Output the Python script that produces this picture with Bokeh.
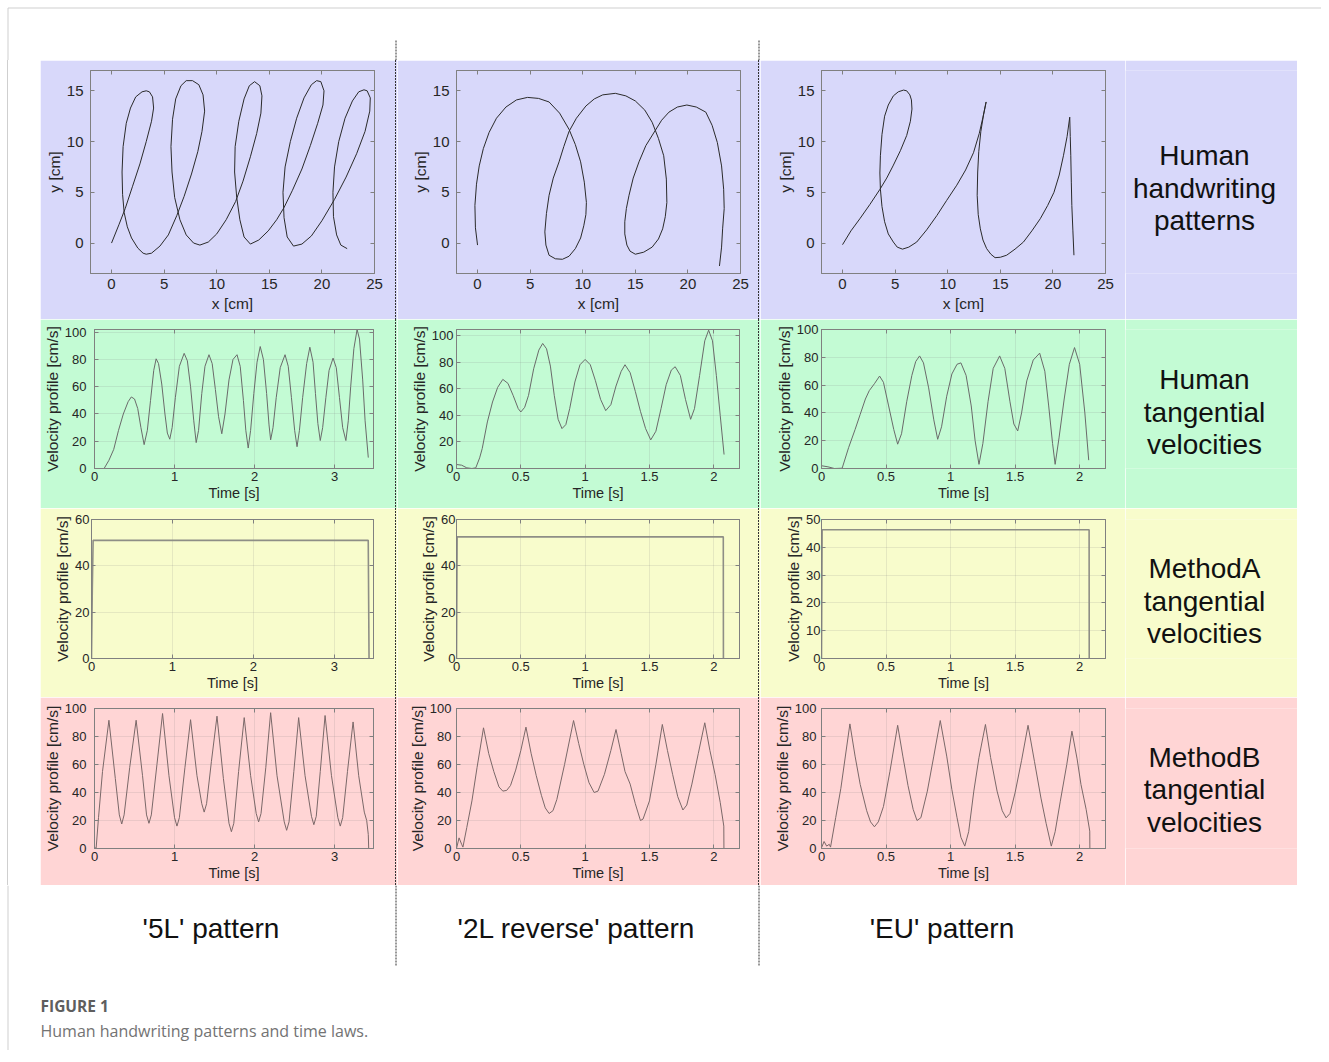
from bokeh.plotting import figure
from bokeh.layouts import column, row
from bokeh.models import Range1d, LinearAxis, FixedTicker, Spacer
from bokeh.embed import file_html
from bokeh.resources import INLINE
from bokeh.core.properties import value

# ------------------------------------------------------------------ data
# Row 1: handwriting trajectories (x [cm], y [cm])
X_5L = [0, 0.7, 1.3, 2.0, 2.7, 3.3, 3.8, 4.0, 3.9, 3.6, 3.3, 2.9, 2.3, 1.8, 1.4, 1.1, 1.0, 1.05, 1.2, 1.5, 1.9, 2.5, 3.0, 3.3,
        3.8, 4.6, 5.4, 6.2, 6.9, 7.6, 8.2, 8.6, 8.85, 8.7, 8.3, 7.7, 7.1, 6.6, 6.1, 5.8, 5.65, 5.75, 6.0, 6.5, 7.1, 7.8, 8.4,
        9.2, 10.0, 10.9, 11.8, 12.5, 13.2, 13.8, 14.2, 14.3, 14.1, 13.6, 13.1, 12.6, 12.1, 11.75, 11.7, 11.9, 12.2, 12.6, 13.2,
        14.0, 14.9, 15.7, 16.4, 17.2, 18.1, 18.9, 19.6, 20.1, 20.2, 19.9, 19.5, 19.0, 18.3, 17.6, 17.0, 16.5, 16.3, 16.4, 16.7, 17.3,
        18.1, 19.0, 20.0, 21.2, 22.3, 23.3, 24.1, 24.55, 24.6, 24.3, 24.0, 23.5, 22.9, 22.2, 21.6, 21.2, 21.05, 21.1, 21.4, 21.8, 22.4]
Y_5L = [0, 1.8, 3.4, 5.6, 7.8, 10.0, 12.0, 13.3, 14.4, 14.9, 15.0, 14.9, 14.4, 13.3, 11.8, 9.5, 7.0, 4.8, 3.0, 1.6, 0.5, -0.5, -1.0, -1.1,
        -1.0, -0.3, 0.8, 2.7, 4.6, 6.8, 9.0, 11.0, 13.0, 14.6, 15.6, 16.0, 16.0, 15.5, 14.2, 12.2, 9.5, 7.0, 4.5, 2.3, 0.8, 0.0, -0.2,
        0.1, 0.9, 2.3, 4.1, 6.1, 8.5, 10.8, 12.8, 14.5, 15.5, 15.9, 15.5, 14.2, 12.0, 9.5, 7.0, 4.5, 2.3, 0.6, -0.1,
        0.3, 1.2, 2.3, 3.5, 5.2, 7.3, 9.6, 11.8, 13.6, 15.0, 15.9, 16.0, 15.6, 14.3, 12.3, 10.0, 7.5, 5.0, 2.5, 0.6, -0.3,
        -0.1, 0.7, 2.2, 4.3, 6.5, 8.8, 11.0, 13.0, 14.3, 15.0, 15.1, 14.9, 14.0, 12.3, 10.0, 7.5, 5.0, 2.6, 0.8, -0.2, -0.55]

X_2L = [0.0, -0.2, -0.25, -0.1, 0.16, 0.55, 1.1, 1.8, 2.7, 3.7, 4.75, 5.8, 6.8, 7.8, 8.7, 9.3, 9.8, 10.15, 10.35, 10.3, 10.1,
        9.8, 9.3, 8.7, 8.07, 7.4, 6.8, 6.5, 6.4, 6.55, 6.8, 7.2, 7.75, 8.2, 8.7, 9.4, 10.3, 11.1, 11.9, 13.1, 14.1, 15.0, 15.9,
        16.6, 17.2, 17.7, 17.95, 18.0, 17.85, 17.6, 17.2, 16.6, 15.8, 15.0, 14.5, 14.2, 14.0, 14.0, 14.15, 14.4, 14.8, 15.35,
        16.0, 16.9, 17.5, 18.2, 19.0, 19.9, 20.8, 21.7, 22.3, 22.8, 23.2, 23.4, 23.45, 23.3, 23.2, 23.0]
Y_2L = [-0.2, 1.5, 3.7, 5.8, 7.6, 9.3, 10.9, 12.3, 13.4, 14.1, 14.35, 14.25, 13.9, 12.8, 11.2, 9.7, 8.0, 6.0, 4.0, 2.8, 1.7,
        0.5, -0.55, -1.3, -1.6, -1.55, -1.2, -0.2, 1.1, 2.9, 4.7, 6.4, 8.0, 9.5, 11.0, 12.3, 13.5, 14.2, 14.6, 14.75, 14.5, 14.0, 13.1,
        11.9, 10.3, 8.6, 6.3, 4.0, 2.6, 1.4, 0.4, -0.4, -0.9, -1.1, -0.8, -0.2, 0.9, 2.1, 3.4, 4.7, 6.4, 8.0,
        9.6, 11.1, 12.1, 12.9, 13.4, 13.6, 13.4, 12.9, 11.6, 9.9, 7.6, 5.3, 3.4, 1.4, -0.4, -2.26]

X_EU = [0, 0.8, 1.65, 2.6, 3.56, 4.2, 4.8, 5.5, 6.1, 6.45, 6.6, 6.55, 6.4, 6.1, 5.8, 5.3, 4.83, 4.35, 4.0, 3.75, 3.6, 3.55,
        3.6, 3.75, 4.0, 4.35, 4.83, 5.2, 5.7, 6.3, 7.05, 8.0, 8.96, 9.9, 10.86, 11.7, 12.45, 13.0, 13.35, 13.65,
        13.4, 13.15, 12.95, 12.85, 12.8, 12.9, 13.1, 13.35, 13.7, 14.1, 14.5, 15.0, 15.6, 16.4, 17.2, 18.0, 18.8, 19.5,
        20.1, 20.6, 21.0, 21.35, 21.6, 21.65, 21.7, 21.75, 21.8, 21.9, 22.0]
Y_EU = [-0.16, 1.2, 2.4, 3.8, 5.3, 6.4, 7.6, 9.1, 10.6, 12.0, 13.2, 14.1, 14.6, 15.0, 15.07, 14.9, 14.5, 13.6, 12.5, 10.7, 8.6, 6.9,
        5.3, 3.6, 2.1, 0.9, 0.1, -0.4, -0.6, -0.4, 0.1, 1.3, 2.7, 4.2, 5.7, 7.2, 8.9, 10.8, 12.4, 13.9,
        12.6, 11.0, 9.0, 7.0, 4.7, 2.8, 1.4, 0.3, -0.55, -1.1, -1.44, -1.4, -1.2, -0.6, 0.1, 1.2, 2.4, 3.7,
        5.0, 6.7, 8.6, 10.5, 12.4, 10.5, 8.6, 6.0, 3.7, 1.2, -1.2]

# Row 2: human tangential velocities (t [s], v [cm/s])
T_H_5L = [0, 0.12, 0.18, 0.24, 0.3, 0.36, 0.42, 0.46, 0.5, 0.54, 0.58, 0.62, 0.66, 0.7, 0.74, 0.77, 0.8, 0.84, 0.88, 0.91,
          0.94, 0.97, 1.01, 1.06, 1.12, 1.16, 1.2, 1.24, 1.27, 1.3, 1.34, 1.38, 1.43, 1.47, 1.51, 1.55, 1.59, 1.63, 1.68,
          1.73, 1.78, 1.82, 1.86, 1.89, 1.92, 1.95, 1.99, 2.03, 2.07, 2.11, 2.15, 2.18, 2.2, 2.23, 2.27, 2.32, 2.38, 2.42,
          2.46, 2.5, 2.53, 2.56, 2.6, 2.65, 2.69, 2.73, 2.76, 2.79, 2.82, 2.85, 2.89, 2.93, 2.98, 3.02, 3.06, 3.1, 3.14,
          3.17, 3.2, 3.24, 3.28, 3.31, 3.35, 3.38, 3.42]
V_H_5L = [0, 0, 6, 14, 28, 40, 49, 52.5, 51, 44, 30, 17.5, 28, 50, 72, 80.5, 77, 62, 40, 26,
          21.5, 30, 52, 75, 84.5, 79, 60, 35, 19, 28, 55, 75, 83.5, 77, 58, 38, 25.5, 40, 65,
          80, 83.5, 75, 50, 28, 15, 28, 55, 78, 89.5, 80, 55, 32, 21, 30, 52, 74, 83.5, 75,
          52, 28, 16, 28, 52, 77, 89, 78, 55, 33, 20.5, 30, 52, 72, 81, 74, 52, 30, 20.5,
          35, 60, 88, 102, 95, 65, 35, 8]
T_H_2L = [0, 0.04, 0.08, 0.12, 0.15, 0.18, 0.2, 0.24, 0.28, 0.32, 0.36, 0.4, 0.44, 0.48, 0.5, 0.53, 0.56, 0.6, 0.64, 0.67,
          0.7, 0.73, 0.76, 0.79, 0.82, 0.85, 0.88, 0.92, 0.96, 1.0, 1.04, 1.08, 1.12, 1.16, 1.2, 1.24, 1.28, 1.31, 1.35,
          1.39, 1.43, 1.47, 1.51, 1.55, 1.59, 1.63, 1.67, 1.7, 1.74, 1.78, 1.82, 1.85, 1.89, 1.93, 1.96, 1.99, 2.02, 2.05, 2.08]
V_H_2L = [3, 2.5, 0.5, 0, 0.5, 8, 15, 35, 50, 61, 67, 64, 55, 45, 42.5, 46, 55, 75, 89, 94,
          90, 77, 55, 37, 30, 33, 45, 65, 78, 82, 78, 66, 52, 43.5, 48, 62, 73, 78, 72,
          58, 43, 30, 21.5, 28, 45, 63, 74, 76.5, 70, 52, 37, 45, 70, 96, 104, 96, 70, 40, 10.5]
T_H_EU = [0, 0.05, 0.1, 0.16, 0.21, 0.26, 0.3, 0.34, 0.37, 0.41, 0.45, 0.48, 0.52, 0.56, 0.59, 0.62, 0.66, 0.7, 0.73, 0.76,
          0.79, 0.83, 0.87, 0.9, 0.93, 0.97, 1.01, 1.05, 1.08, 1.12, 1.16, 1.19, 1.22, 1.25, 1.29, 1.33, 1.38, 1.42, 1.46,
          1.49, 1.52, 1.55, 1.59, 1.64, 1.69, 1.73, 1.76, 1.79, 1.81, 1.84, 1.88, 1.92, 1.96, 2.0, 2.04, 2.07]
V_H_EU = [2, 1.2, 0, 0.2, 15, 28, 39, 50, 56, 61, 66.5, 62, 45, 28, 17.5, 25, 48, 67, 77, 81,
          76, 58, 35, 21, 30, 52, 68, 75, 76, 67, 45, 20, 3, 18, 48, 72, 81, 72, 48,
          32, 27, 40, 63, 78, 83, 70, 45, 18, 3, 22, 50, 75, 87, 75, 40, 6]

# Row 3: MethodA tangential velocities
T_A_5L = [0, 0.01, 0.02, 3.42, 3.43]
V_A_5L = [0, 30, 51, 51, 0]
T_A_2L = [0, 0.005, 2.074, 2.075]
V_A_2L = [0, 52.5, 52.5, 0]
T_A_EU = [0, 0.005, 2.073, 2.074]
V_A_EU = [0, 46.3, 46.3, 0]

# Row 4: MethodB tangential velocities
T_B_5L = [0, 0.02, 0.05, 0.1, 0.18, 0.26, 0.31, 0.34, 0.37, 0.44, 0.52, 0.6, 0.65, 0.68, 0.71, 0.78, 0.85, 0.93, 1.0, 1.03,
          1.06, 1.13, 1.2, 1.28, 1.34, 1.37, 1.4, 1.46, 1.53, 1.61, 1.68, 1.71, 1.74, 1.8, 1.87, 1.95, 2.02, 2.05, 2.08,
          2.14, 2.2, 2.28, 2.37, 2.4, 2.43, 2.49, 2.55, 2.63, 2.71, 2.74, 2.77, 2.82, 2.88, 2.96, 3.04, 3.07, 3.1, 3.16,
          3.23, 3.3, 3.37, 3.4, 3.42, 3.425]
V_B_5L = [1, 0, 22, 55, 91.6, 50, 24, 17.5, 24, 58, 91.6, 52, 24, 18, 24, 60, 96.4, 52, 22, 16,
          22, 58, 92, 52, 32, 26, 32, 62, 94.5, 50, 18, 12, 18, 55, 93.5, 52, 25, 19, 25,
          58, 97, 52, 19, 13, 19, 55, 93.5, 52, 23, 17, 23, 55, 95, 52, 22, 16, 22, 55,
          90.4, 52, 26, 20, 10, 0]
T_B_2L = [0, 0.02, 0.04, 0.05, 0.08, 0.12, 0.16, 0.21, 0.25, 0.29, 0.33, 0.36, 0.39, 0.42, 0.46, 0.5, 0.54, 0.58, 0.62,
          0.66, 0.69, 0.72, 0.75, 0.78, 0.84, 0.91, 0.95, 0.99, 1.03, 1.07, 1.1, 1.15, 1.2, 1.24, 1.28, 1.31, 1.35, 1.39,
          1.43, 1.45, 1.5, 1.55, 1.6, 1.64, 1.68, 1.72, 1.76, 1.79, 1.83, 1.88, 1.93, 1.97, 2.01, 2.05, 2.078, 2.079]
V_B_2L = [0, 7.6, 3, 1, 15, 34, 58, 86.2, 68, 55, 44, 41, 41.5, 45, 56, 70, 86.7, 68, 52,
          38, 29, 25, 27, 35, 60, 91.4, 75, 60, 47, 40, 41, 53, 70, 85, 68, 55, 46, 32,
          20, 21, 34, 60, 88.6, 70, 53, 37, 27.5, 31, 46, 68, 89.8, 70, 53, 33, 16, 0]
T_B_EU = [0, 0.02, 0.04, 0.06, 0.07, 0.11, 0.15, 0.22, 0.26, 0.3, 0.35, 0.38, 0.41, 0.44, 0.48, 0.53, 0.59, 0.63, 0.67,
          0.71, 0.74, 0.77, 0.82, 0.87, 0.92, 0.97, 1.01, 1.05, 1.08, 1.11, 1.14, 1.18, 1.22, 1.27, 1.31, 1.36, 1.4, 1.43,
          1.46, 1.5, 1.55, 1.6, 1.65, 1.7, 1.74, 1.78, 1.81, 1.85, 1.9, 1.94, 1.98, 2.01, 2.05, 2.078, 2.079]
V_B_EU = [0.5, 5, 1.7, 3, 1, 22, 43, 89, 66, 45.7, 27, 19, 15.5, 19, 30, 55, 88, 66, 45,
          28, 20, 22, 41, 66, 91.4, 66, 42, 22, 8, 1.7, 12, 41, 65, 88.6, 65, 41, 27, 21.9,
          25, 40, 63, 88, 62, 36, 18, 1.7, 12, 33.8, 60, 83.8, 64, 45.7, 28, 12.4, 0]

# axis limits and ticks
XY_XLIM, XY_YLIM = (-2, 25), (-3, 17)
XY_XTICKS, XY_YTICKS = [0, 5, 10, 15, 20, 25], [0, 5, 10, 15]
T_LIM_5L, T_LIM_OTHER = (0, 3.485), (0, 2.2)
T_TICKS_5L = [0, 1, 2, 3]
T_TICKS_OTHER = [0, 0.5, 1, 1.5, 2]
T_TICK_LABELS_OTHER = ["0", "0.5", "1", "1.5", "2"]
V_LIMS = [[(0, 102), (0, 104.5), (0, 100)],
          [(0, 60), (0, 60), (0, 50)],
          [(0, 100), (0, 100), (0, 100)]]
V_TICKS = [[[0, 20, 40, 60, 80, 100]] * 3,
           [[0, 20, 40, 60], [0, 20, 40, 60], [0, 10, 20, 30, 40, 50]],
           [[0, 20, 40, 60, 80, 100]] * 3]

ROW_LABELS = [["Human", "handwriting", "patterns"], ["Human", "tangential", "velocities"],
              ["MethodA", "tangential", "velocities"], ["MethodB", "tangential", "velocities"]]
COL_LABELS = ["'5L' pattern", "'2L reverse' pattern", "'EU' pattern"]
CAPTION_HEAD = "FIGURE 1"
CAPTION = "Human handwriting patterns and time laws."

# ------------------------------------------------------------------ style / layout
FONT = "Liberation Sans"
CAP_FONT = "Open Sans"
TXT = "#262626"
FRAME = "#808080"
BORDER = "#cfcfcf"
BANDS = ["#d8d8fa", "#c3fbd4", "#f8fccc", "#ffd5d5"]
LINE_COLORS = ["#2a2a2a", "#6a6a6a", "#8e8e86", "#7a6868"]
LINE_WIDTHS = [1.0, 1.0, 1.6, 1.0]
SEP_COLOR = "#333333"
DASH = "2 1"

COL_W = [40, 355, 2, 361, 2, 365, 172]
BAND_H = [259, 189, 189, 188]
TOP_H, BOT_H, FULL_W = 60, 165, 1321
EDGE = 7.5                      # outer frame line position
SEP_LOCAL = [395.5, 758.5]
ROW_TB = [(10, 46), (10, 40), (11, 39), (11, 37)]
COL_LR = [[(50, 21), (59, 18), (61, 20)]] + [[(51, 22), (59, 19), (61, 20)]] * 3
Y_TICK_STANDOFF = [[7, 7, 7], [8, 3, 3], [2, 1, 1], [8, 5, 5]]
PANEL_W = [COL_W[1], COL_W[3], COL_W[5]]
LABEL_CX = 79
LABEL_DY = 32.5
LABEL_SHIFT = -2


def blank(w, h, bg):
    p = figure(width=w, height=h, output_backend="svg", toolbar_location=None,
               x_range=Range1d(0, w), y_range=Range1d(h, 0),
               x_axis_location=None, y_axis_location=None, min_border=0)
    p.grid.visible = False
    p.outline_line_color = None
    p.background_fill_color = bg
    p.border_fill_color = bg
    return p


def css_strip(w, h, bg, line_x, vertical_dots):
    if vertical_dots:
        img = ("repeating-linear-gradient(to bottom, %s 0px, %s 2px, transparent 2px, transparent 3px)"
               % (SEP_COLOR, SEP_COLOR))
    else:
        img = "linear-gradient(to bottom, %s, %s)" % (BORDER, BORDER)
    st = {"background-color": bg, "background-image": img, "background-size": "1px 100%",
          "background-repeat": "no-repeat", "background-position": "%dpx 0px" % line_x}
    return Spacer(width=w, height=h, margin=0, styles=st)


def panel(r, c, xs, ys, xlim, ylim, xticks, xlabels, yticks, ylabels, xlab, ylab):
    bl, br = COL_LR[r][c]
    bt, bb = ROW_TB[r]
    bg = BANDS[r]
    p = figure(width=PANEL_W[c], height=BAND_H[r], output_backend="svg", toolbar_location=None,
               x_range=Range1d(*xlim), y_range=Range1d(*ylim),
               min_border_left=bl, min_border_right=br, min_border_top=bt, min_border_bottom=bb)
    p.background_fill_color = bg
    p.border_fill_color = bg
    p.outline_line_color = FRAME
    p.line(xs, ys, line_color=LINE_COLORS[r], line_width=LINE_WIDTHS[r])
    xtk, ytk = FixedTicker(ticks=xticks), FixedTicker(ticks=yticks)
    xa, ya = p.xaxis[0], p.yaxis[0]
    xa.ticker, ya.ticker = xtk, ytk
    xa.major_label_overrides = {t: l for t, l in zip(xticks, xlabels)}
    ya.major_label_overrides = {t: l for t, l in zip(yticks, ylabels)}
    xa.axis_label, ya.axis_label = xlab, ylab
    big = r == 0
    for a in (xa, ya):
        a.axis_line_color = FRAME
        a.major_tick_line_color = FRAME
        a.major_tick_in, a.major_tick_out = 4, 0
        a.minor_tick_line_color = None
        a.major_label_text_font = FONT
        a.major_label_text_color = TXT
        a.major_label_text_font_size = "15px" if big else "13px"
        a.axis_label_text_font = FONT
        a.axis_label_text_color = TXT
        a.axis_label_text_font_style = "normal"
    xa.axis_label_text_font_size = "15.5px" if big else "14.5px"
    ya.axis_label_text_font_size = "15.5px"
    xa.major_label_standoff = 5 if big else 3
    xa.axis_label_standoff = 3 if big else 1
    ya.major_label_standoff = Y_TICK_STANDOFF[r][c]
    ya.axis_label_standoff = 1
    if r == 0:
        p.grid.visible = False
    else:
        p.xgrid.ticker, p.ygrid.ticker = xtk, ytk
        p.grid.grid_line_color = "#808080"
        p.grid.grid_line_alpha = 0.16
    for loc, tk, ticks in (("above", xtk, xticks), ("right", ytk, yticks)):
        ax = LinearAxis(ticker=tk, major_label_overrides={t: "" for t in ticks},
                        major_label_text_font_size="0px", major_label_standoff=0,
                        major_tick_in=4, major_tick_out=0, minor_tick_line_color=None,
                        axis_line_color=FRAME, major_tick_line_color=FRAME)
        p.add_layout(ax, loc)
    return p


def fmt(ticks):
    return [str(t) for t in ticks]


TRAJ = [(X_5L, Y_5L), (X_2L, Y_2L), (X_EU, Y_EU)]
VEL = [[(T_H_5L, V_H_5L), (T_H_2L, V_H_2L), (T_H_EU, V_H_EU)],
       [(T_A_5L, V_A_5L), (T_A_2L, V_A_2L), (T_A_EU, V_A_EU)],
       [(T_B_5L, V_B_5L), (T_B_2L, V_B_2L), (T_B_EU, V_B_EU)]]

# top strip
top = blank(FULL_W, TOP_H, "white")
top.line([EDGE, FULL_W], [EDGE, EDGE], line_color=BORDER, line_width=1)
top.line([EDGE, EDGE], [EDGE, TOP_H], line_color=BORDER, line_width=1)
for sx in SEP_LOCAL:
    top.line([sx, sx], [40, TOP_H], line_color=SEP_COLOR, line_width=1, line_dash=DASH)

rows = [top]
for r in range(4):
    h = BAND_H[r]
    cells = [css_strip(COL_W[0], h, "white", 7, False)]
    for c in range(3):
        if r == 0:
            xs, ys = TRAJ[c]
            p = panel(r, c, xs, ys, XY_XLIM, XY_YLIM, XY_XTICKS, fmt(XY_XTICKS),
                      XY_YTICKS, fmt(XY_YTICKS), "x [cm]", "y [cm]")
        else:
            ts, vs = VEL[r - 1][c]
            if c == 0:
                xlim, xt, xl = T_LIM_5L, T_TICKS_5L, fmt(T_TICKS_5L)
            else:
                xlim, xt, xl = T_LIM_OTHER, T_TICKS_OTHER, T_TICK_LABELS_OTHER
            yt = V_TICKS[r - 1][c]
            p = panel(r, c, ts, vs, xlim, V_LIMS[r - 1][c], xt, xl, yt, fmt(yt),
                      "Time [s]", "Velocity profile [cm/s]")
        cells.append(p)
        if c < 2:
            cells.append(css_strip(COL_W[2], h, BANDS[r], 0, True))
    # row-label panel: its frame is aligned with the panels' frames, so map data y to cell pixels
    bt, bb = ROW_TB[r]
    lab = figure(width=COL_W[6], height=h, output_backend="svg", toolbar_location=None,
                 x_range=Range1d(0, COL_W[6]), y_range=Range1d(h - bb, bt),
                 x_axis_location=None, y_axis_location=None,
                 min_border_left=0, min_border_right=0, min_border_top=bt, min_border_bottom=bb)
    lab.grid.visible = False
    lab.outline_line_color = None
    lab.background_fill_color = BANDS[r]
    lab.border_fill_color = BANDS[r]
    yc = h / 2 + LABEL_SHIFT
    ys_lab = [yc - LABEL_DY, yc, yc + LABEL_DY]
    lab.text(x=[LABEL_CX] * 3, y=ys_lab, text=ROW_LABELS[r], text_font=value(FONT), text_font_size="28px",
             text_align="center", text_baseline="middle", text_color="#111111")
    cells.append(lab)
    rows.append(row(*cells, spacing=0))

bot = blank(FULL_W, BOT_H, "white")
bot.line([EDGE, EDGE], [0, BOT_H], line_color=BORDER, line_width=1)
for sx in SEP_LOCAL:
    bot.line([sx, sx], [0, 80], line_color=SEP_COLOR, line_width=1, line_dash=DASH)
bot.text(x=[210.5, 576, 941.5], y=[43, 43, 43], text=COL_LABELS, text_font=value(FONT),
         text_font_size="28px", text_align="center", text_baseline="middle", text_color="#111111")
bot.text(x=[40], y=[120], text=[CAPTION_HEAD], text_font=value(CAP_FONT), text_font_size="15.5px",
         text_font_style="bold", text_align="left", text_baseline="middle", text_color="#5e5e5e")
bot.text(x=[40], y=[145], text=[CAPTION], text_font=value(CAP_FONT), text_font_size="16px",
         text_align="left", text_baseline="middle", text_color="#737373")
rows.append(bot)

layout = column(*rows, spacing=0)
open("out.html", "w").write(file_html(layout, INLINE))
